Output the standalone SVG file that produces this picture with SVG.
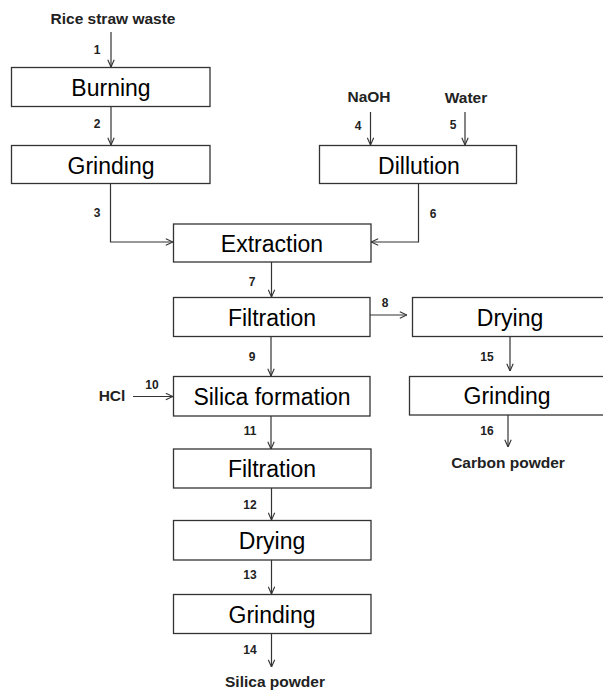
<svg xmlns="http://www.w3.org/2000/svg" width="603" height="690" viewBox="0 0 603 690">
<style>
.box{fill:#fff;stroke:#333;stroke-width:1.3}
.bt{font-family:"Liberation Sans",Arial,sans-serif;font-size:23px;text-anchor:middle;fill:#000}
.lb{font-family:"Liberation Sans",Arial,sans-serif;font-size:12px;font-weight:bold;text-anchor:middle;fill:#222}
.an{font-family:"Liberation Sans",Arial,sans-serif;font-size:15.5px;font-weight:bold;text-anchor:middle;fill:#222}
.ln{fill:none;stroke:#333;stroke-width:1.2}
</style>
<defs>
<marker id="ah" viewBox="0 0 10 10" refX="10" refY="5" markerWidth="8" markerHeight="8" markerUnits="userSpaceOnUse" orient="auto">
<path d="M1,1 L10,5 L1,9" fill="none" stroke="#333" stroke-width="1.4"/>
</marker>
</defs>
<rect width="603" height="690" fill="#fff"/>
<g id="connectors">
<path class="ln" d="M111,32 V67" marker-end="url(#ah)"/>
<path class="ln" d="M111,107 V145" marker-end="url(#ah)"/>
<path class="ln" d="M110.5,183 V242 H173" marker-end="url(#ah)"/>
<path class="ln" d="M370.5,112 V145" marker-end="url(#ah)"/>
<path class="ln" d="M465,112 V145" marker-end="url(#ah)"/>
<path class="ln" d="M418.5,183 V242 H371" marker-end="url(#ah)"/>
<path class="ln" d="M271.5,262 V297" marker-end="url(#ah)"/>
<path class="ln" d="M370,315 H407" marker-end="url(#ah)"/>
<path class="ln" d="M271,337 V376" marker-end="url(#ah)"/>
<path class="ln" d="M133,396.5 H173" marker-end="url(#ah)"/>
<path class="ln" d="M271,416 V449" marker-end="url(#ah)"/>
<path class="ln" d="M271.5,488 V520" marker-end="url(#ah)"/>
<path class="ln" d="M271.5,560 V594" marker-end="url(#ah)"/>
<path class="ln" d="M271.5,633 V667" marker-end="url(#ah)"/>
<path class="ln" d="M510,337 V371" marker-end="url(#ah)"/>
<path class="ln" d="M508,415 V447" marker-end="url(#ah)"/>
<text class="lb" x="97" y="54">1</text>
<text class="lb" x="97" y="128">2</text>
<text class="lb" x="97" y="217">3</text>
<text class="lb" x="358" y="130">4</text>
<text class="lb" x="453" y="129">5</text>
<text class="lb" x="433" y="218">6</text>
<text class="lb" x="252" y="286">7</text>
<text class="lb" x="385" y="307">8</text>
<text class="lb" x="252" y="361">9</text>
<text class="lb" x="152" y="389">10</text>
<text class="lb" x="250" y="435">11</text>
<text class="lb" x="250" y="509">12</text>
<text class="lb" x="250" y="579">13</text>
<text class="lb" x="250" y="654">14</text>
<text class="lb" x="487" y="361">15</text>
<text class="lb" x="487" y="435">16</text>
</g>
<g id="rice"><text class="an" x="113" y="24">Rice straw waste</text></g>
<g id="naoh"><text class="an" x="369" y="102">NaOH</text></g>
<g id="water"><text class="an" x="466" y="103">Water</text></g>
<g id="hcl"><text class="an" x="112" y="401">HCl</text></g>
<g id="carbon"><text class="an" x="508" y="468">Carbon powder</text></g>
<g id="silica"><text class="an" x="275" y="687">Silica powder</text></g>
<g id="burning"><rect class="box" x="11.5" y="67.5" width="198.5" height="39"/><text class="bt" x="111" y="96">Burning</text></g>
<g id="grinding1"><rect class="box" x="11.5" y="145.5" width="198.5" height="38"/><text class="bt" x="111" y="174">Grinding</text></g>
<g id="dillution"><rect class="box" x="319.5" y="145.5" width="197" height="38"/><text class="bt" x="419" y="174">Dillution</text></g>
<g id="extraction"><rect class="box" x="173.5" y="224" width="197.5" height="38"/><text class="bt" x="272" y="252">Extraction</text></g>
<g id="filtration1"><rect class="box" x="173.5" y="297.5" width="196.5" height="39"/><text class="bt" x="272" y="326">Filtration</text></g>
<g id="drying1"><rect class="box" x="412.5" y="297.5" width="196" height="39"/><text class="bt" x="510" y="326">Drying</text></g>
<g id="silicaformation"><rect class="box" x="173.5" y="376.5" width="196.5" height="39.5"/><text class="bt" x="272" y="405">Silica formation</text></g>
<g id="grinding3"><rect class="box" x="409.5" y="376.5" width="199" height="38.5"/><text class="bt" x="507" y="404">Grinding</text></g>
<g id="filtration2"><rect class="box" x="173.5" y="449" width="197.5" height="39"/><text class="bt" x="272" y="477">Filtration</text></g>
<g id="drying2"><rect class="box" x="173.5" y="520.5" width="197.5" height="39.5"/><text class="bt" x="272" y="549">Drying</text></g>
<g id="grinding2"><rect class="box" x="173.5" y="594.5" width="197.5" height="39"/><text class="bt" x="272" y="623">Grinding</text></g>
</svg>
